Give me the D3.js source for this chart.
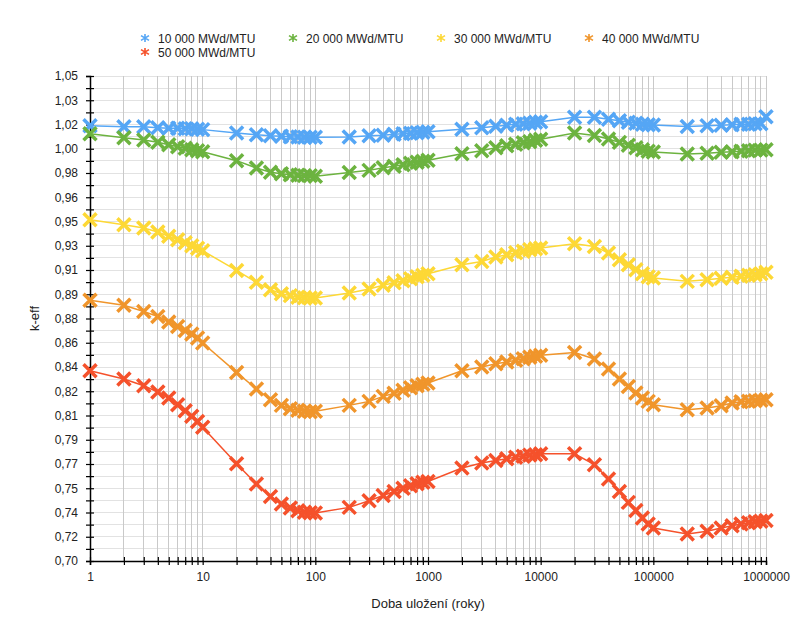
<!DOCTYPE html>
<html><head><meta charset="utf-8">
<script src="https://cdn.jsdelivr.net/npm/d3@7"></script>
<style>
body{margin:0;background:#fff;}
svg{display:block;font-family:"Liberation Sans",Arial,Helvetica,sans-serif;}
</style></head>
<body><svg id="c" width="812" height="634"></svg>
<script>
const years = [1,2,3,4,5,6,7,8,9,10,20,30,40,50,60,70,80,90,100,200,300,400,500,600,700,800,900,1000,2000,3000,4000,5000,6000,7000,8000,9000,10000,20000,30000,40000,50000,60000,70000,80000,90000,100000,200000,300000,400000,500000,600000,700000,800000,900000,1000000];

const s10000 = [1.0141,1.0134,1.0134,1.0127,1.0123,1.0123,1.0120,1.0120,1.0116,1.0113,1.0089,1.0076,1.0069,1.0066,1.0062,1.0060,1.0058,1.0058,1.0058,1.0060,1.0069,1.0073,1.0080,1.0084,1.0087,1.0091,1.0094,1.0098,1.0116,1.0127,1.0138,1.0145,1.0152,1.0156,1.0159,1.0167,1.0170,1.0203,1.0203,1.0188,1.0177,1.0167,1.0159,1.0152,1.0149,1.0146,1.0136,1.0141,1.0145,1.0149,1.0152,1.0152,1.0156,1.0156,1.0206];
const s20000 = [1.0084,1.0055,1.0038,1.0022,1.0004,0.9990,0.9979,0.9968,0.9961,0.9954,0.9889,0.9836,0.9806,0.9795,0.9788,0.9784,0.9781,0.9781,0.9777,0.9804,0.9819,0.9838,0.9849,0.9860,0.9871,0.9878,0.9885,0.9892,0.9939,0.9961,0.9983,0.9997,1.0008,1.0019,1.0026,1.0037,1.0044,1.0089,1.0071,1.0045,1.0021,1.0001,0.9983,0.9968,0.9957,0.9952,0.9937,0.9943,0.9950,0.9954,0.9957,0.9961,0.9965,0.9965,0.9968];
const s30000 = [0.9463,0.9427,0.9403,0.9374,0.9343,0.9319,0.9297,0.9275,0.9257,0.9239,0.9097,0.9011,0.8958,0.8929,0.8915,0.8904,0.8900,0.8898,0.8898,0.8934,0.8963,0.8990,0.9008,0.9023,0.9037,0.9052,0.9062,0.9073,0.9138,0.9162,0.9194,0.9210,0.9225,0.9236,0.9247,0.9254,0.9259,0.9290,0.9270,0.9223,0.9174,0.9138,0.9102,0.9073,0.9052,0.9042,0.9018,0.9030,0.9041,0.9048,0.9055,0.9062,0.9066,0.9073,0.9083];
const s40000 = [0.8881,0.8845,0.8801,0.8765,0.8725,0.8693,0.8664,0.8638,0.8609,0.8573,0.8361,0.8241,0.8164,0.8123,0.8099,0.8088,0.8081,0.8077,0.8080,0.8123,0.8152,0.8188,0.8211,0.8233,0.8251,0.8265,0.8276,0.8285,0.8373,0.8400,0.8424,0.8436,0.8449,0.8460,0.8471,0.8478,0.8484,0.8505,0.8458,0.8386,0.8313,0.8260,0.8212,0.8176,0.8152,0.8128,0.8092,0.8104,0.8121,0.8140,0.8150,0.8153,0.8157,0.8160,0.8164];
const s50000 = [0.8373,0.8313,0.8265,0.8220,0.8176,0.8128,0.8085,0.8044,0.8007,0.7966,0.7702,0.7556,0.7466,0.7411,0.7382,0.7363,0.7352,0.7349,0.7346,0.7387,0.7435,0.7473,0.7502,0.7525,0.7543,0.7558,0.7569,0.7574,0.7671,0.7707,0.7726,0.7738,0.7749,0.7756,0.7764,0.7767,0.7774,0.7774,0.7695,0.7592,0.7502,0.7423,0.7365,0.7310,0.7267,0.7238,0.7195,0.7214,0.7238,0.7255,0.7267,0.7276,0.7284,0.7287,0.7293];

const seriesNames = ["10 000 MWd/MTU","20 000 MWd/MTU","30 000 MWd/MTU","40 000 MWd/MTU","50 000 MWd/MTU"];
const seriesColors = ["#55a6f5","#6cb33f","#fdd835","#f0952b","#f5512b"];

const yTickValues = [0.70,0.7175,0.735,0.7525,0.77,0.7875,0.805,0.8225,0.84,0.8575,0.875,0.8925,0.91,0.9275,0.945,0.9625,0.98,0.9975,1.015,1.0325,1.05];
const yTickLabels = ["0,70","0,72","0,74","0,75","0,77","0,79","0,81","0,82","0,84","0,86","0,88","0,89","0,91","0,93","0,95","0,96","0,98","1,00","1,02","1,03","1,05"];
const xTickLabels = ["1","10","100","1000","10000","100000","1000000"];

const xTitle = "Doba uložení (roky)";
const yTitle = "k-eff";

const svg = d3.select("#c");
const L=90, R=766, T=76, B=561;
const x = d3.scaleLog().domain([1,1e6]).range([L,R]);
const y = d3.scaleLinear().domain([0.70,1.05]).range([B,T]);

// minor y values (midpoints)
const yMinor = [];
for(let i=0;i<yTickValues.length-1;i++) yMinor.push((yTickValues[i]+yTickValues[i+1])/2);
const yAll = yTickValues.concat(yMinor);

// x minor ticks (1..9 per decade)
const xAll = x.ticks(60);

const grid = svg.append("g");
grid.selectAll("line.h").data(yAll).join("line")
  .attr("x1",L).attr("x2",R).attr("y1",d=>y(d)).attr("y2",d=>y(d))
  .attr("stroke","#e2e2e2").attr("stroke-width",1).attr("shape-rendering","crispEdges");
grid.selectAll("line.v").data(xAll).join("line")
  .attr("x1",d=>x(d)).attr("x2",d=>x(d)).attr("y1",T).attr("y2",B)
  .attr("stroke","#c9c9c9").attr("stroke-width",1).attr("shape-rendering","crispEdges");

// Y axis
const yAxis = d3.axisLeft(y).tickValues(yAll).tickSize(4)
  .tickFormat(d=>{const i=yTickValues.indexOf(d);return i>=0?yTickLabels[i]:"";});
const gy = svg.append("g").attr("transform",`translate(${L},0)`).call(yAxis);
gy.select(".domain").attr("stroke","#000").attr("stroke-width",1.5);
gy.selectAll(".tick line").attr("x1",4).attr("x2",-4).attr("stroke","#000").attr("stroke-width",1.2);
gy.selectAll(".tick text").attr("x",-12).attr("font-size",12).attr("fill","#222")
  .attr("font-family","'Liberation Sans',Arial,sans-serif");

// X axis
const xAxis = d3.axisBottom(x).tickValues(xAll).tickSize(4)
  .tickFormat(d=>{const s=String(Math.round(d));return xTickLabels.includes(s)?s:"";});
const gx = svg.append("g").attr("transform",`translate(0,${B})`).call(xAxis);
gx.select(".domain").attr("stroke","#000").attr("stroke-width",1.5);
gx.selectAll(".tick line").attr("y1",-4).attr("y2",4).attr("stroke","#000").attr("stroke-width",1.2);
gx.selectAll(".tick text").attr("y",11).attr("font-size",12).attr("fill","#222")
  .attr("font-family","'Liberation Sans',Arial,sans-serif");

// Series
const allSeries = [s10000,s20000,s30000,s40000,s50000];
const line = d3.line().x(d=>x(d[0])).y(d=>y(d[1]));
const mk = 6.5;
allSeries.forEach((vals,si)=>{
  const pts = years.map((yr,i)=>[yr,vals[i]]);
  const g = svg.append("g");
  g.append("path").datum(pts).attr("d",line).attr("fill","none")
    .attr("stroke",seriesColors[si]).attr("stroke-width",1.5);
  g.selectAll("path.m").data(pts).join("path").attr("class","m")
    .attr("d",d=>{const cx=x(d[0]),cy=y(d[1]);
      return `M${cx-mk},${cy-mk}L${cx+mk},${cy+mk}M${cx-mk},${cy+mk}L${cx+mk},${cy-mk}`;})
    .attr("stroke",seriesColors[si]).attr("stroke-width",3.5).attr("fill","none");
});

// Legend
const legX = [145,293,441,589,145];
const legY = [38,38,38,38,52];
const lg = svg.append("g");
seriesNames.forEach((n,i)=>{
  const cx=legX[i], cy=legY[i], r=4;
  const g = lg.append("g");
  g.append("path").attr("d",`M${cx-r},${cy-r*0.6}L${cx+r},${cy+r*0.6}M${cx-r},${cy+r*0.6}L${cx+r},${cy-r*0.6}M${cx},${cy-r}L${cx},${cy+r}`)
    .attr("stroke",seriesColors[i]).attr("stroke-width",1.6).attr("fill","none");
  g.append("text").attr("x",cx+13).attr("y",cy+4.5).attr("font-size",12).attr("fill","#222").text(n);
});

// Axis titles
svg.append("text").attr("x",(L+R)/2).attr("y",608).attr("text-anchor","middle")
  .attr("font-size",13).attr("fill","#222").text(xTitle);
svg.append("text").attr("transform",`translate(39,${(T+B)/2}) rotate(-90)`).attr("text-anchor","middle")
  .attr("font-size",13).attr("fill","#222").text(yTitle);
</script></body></html>
